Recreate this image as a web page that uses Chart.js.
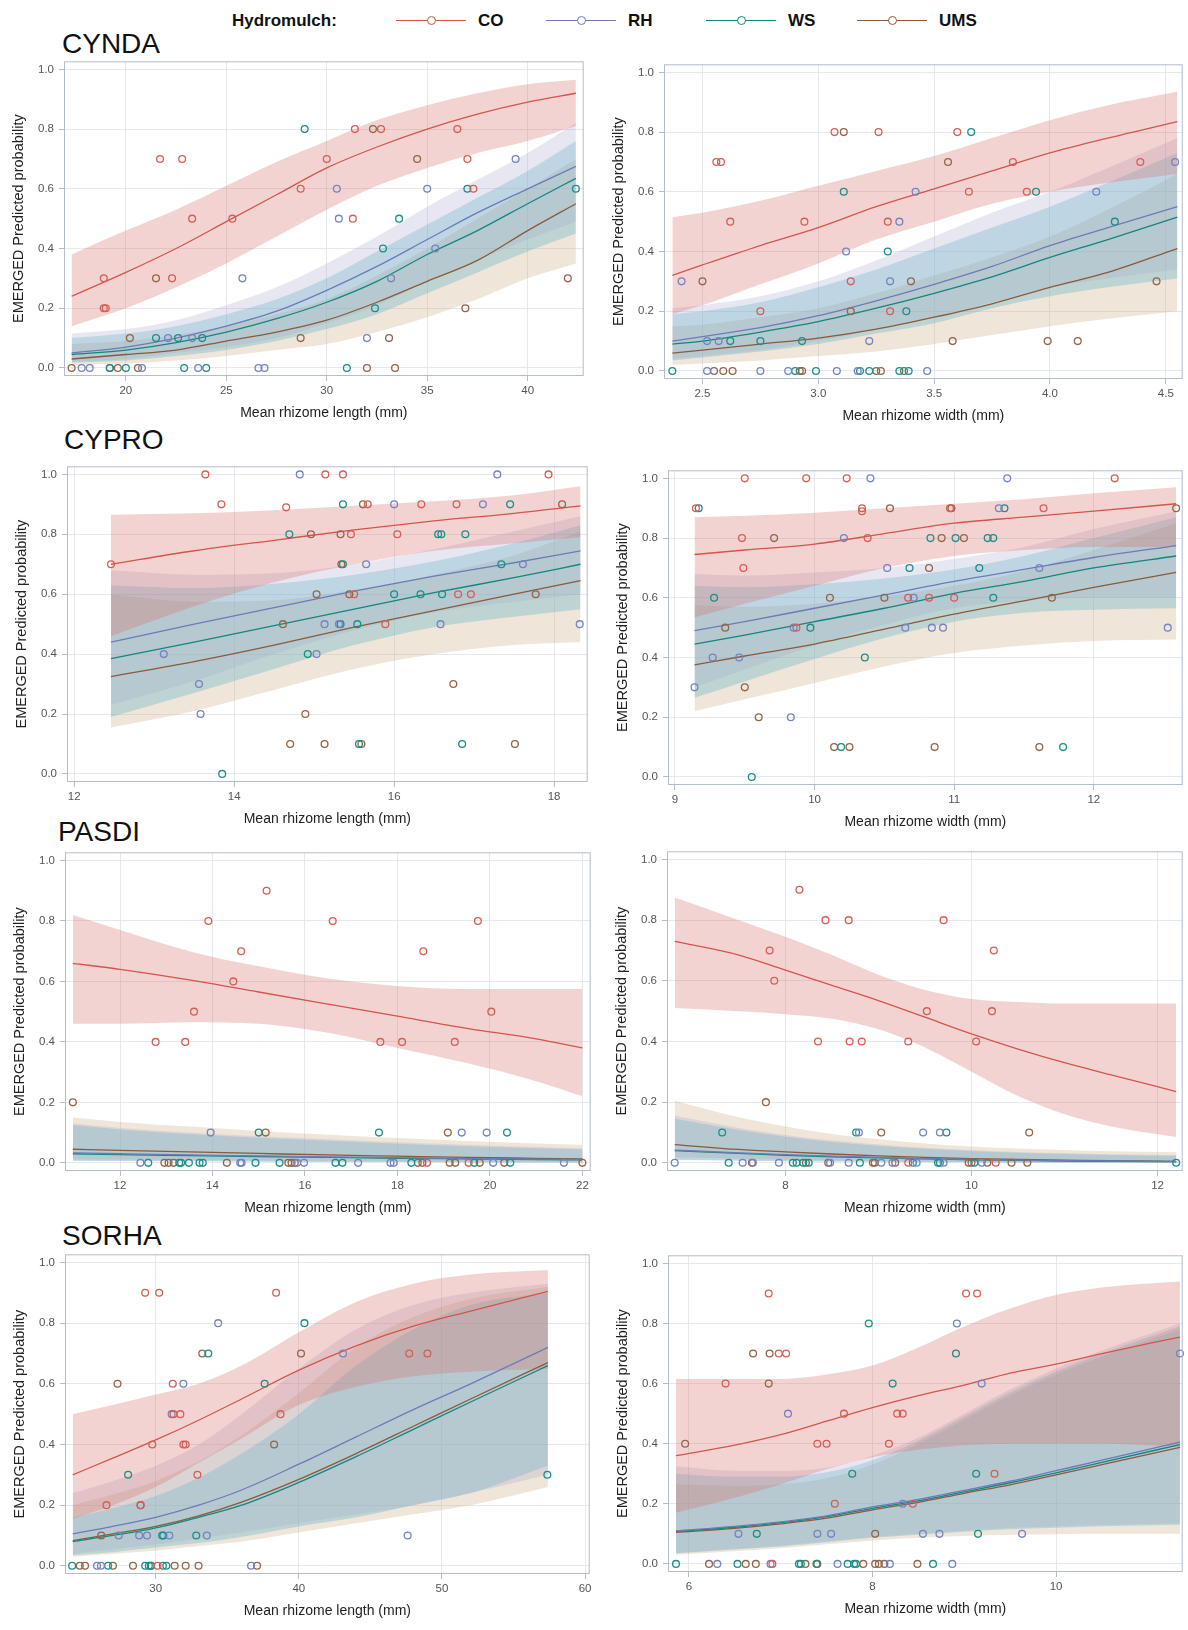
<!DOCTYPE html>
<html>
<head>
<meta charset="utf-8">
<script src="https://cdn.jsdelivr.net/npm/chart.js@4.4.1/dist/chart.umd.min.js"></script>
<style>
  html, body { margin: 0; padding: 0; background: #fff; overflow: hidden; }
  body { width: 1188px; height: 1630px; position: relative; font-family: "Liberation Sans", Arial, sans-serif; }
  canvas { position: absolute; }
  .species { position: absolute; font-size: 28px; line-height: 28px; color: #111; }
  .leg { position: absolute; top: 10px; height: 22px; line-height: 22px; font-size: 17px; font-weight: bold; color: #111; }
  .legline { position: absolute; top: 20px; width: 70px; height: 0; border-top: 1.5px solid; }
  .legdot { position: absolute; top: 16px; width: 7px; height: 7px; border: 1.3px solid; border-radius: 50%; background: #fff; }
</style>
</head>
<body>
<div class="species" style="left:62px;top:30px">CYNDA</div>
<div class="species" style="left:64px;top:426px">CYPRO</div>
<div class="species" style="left:58px;top:818px">PASDI</div>
<div class="species" style="left:62px;top:1222px">SORHA</div>
<div id="legend"></div>

<canvas id="c1"></canvas>
<canvas id="c2"></canvas>
<canvas id="c3"></canvas>
<canvas id="c4"></canvas>
<canvas id="c5"></canvas>
<canvas id="c6"></canvas>
<canvas id="c7"></canvas>
<canvas id="c8"></canvas>

<script>
const SERIES = ["CO", "RH", "WS", "UMS"];
const yTicks = [0, 0.2, 0.4, 0.6, 0.8, 1.0];

// ---- CYNDA, rhizome length
const cyndaLenTicks = [20, 25, 30, 35, 40];
const cyndaLenGrid = [17.3, 20, 22.5, 25, 27.5, 30, 32.5, 35, 37.5, 40, 42.4];
const cyndaLenFit = {
  CO:  [0.24, 0.32, 0.40, 0.49, 0.58, 0.67, 0.74, 0.80, 0.85, 0.89, 0.92],
  RH:  [0.05, 0.07, 0.10, 0.14, 0.19, 0.26, 0.34, 0.43, 0.52, 0.60, 0.675],
  WS:  [0.045, 0.06, 0.085, 0.12, 0.165, 0.22, 0.29, 0.38, 0.46, 0.55, 0.635],
  UMS: [0.03, 0.045, 0.06, 0.09, 0.12, 0.16, 0.22, 0.29, 0.36, 0.46, 0.55]
};
const cyndaLenLo = {
  CO:  [0.14, 0.20, 0.27, 0.35, 0.44, 0.53, 0.61, 0.67, 0.72, 0.76, 0.81],
  RH:  [0.02, 0.03, 0.05, 0.07, 0.10, 0.15, 0.21, 0.29, 0.36, 0.43, 0.49],
  WS:  [0.018, 0.025, 0.04, 0.06, 0.09, 0.13, 0.18, 0.25, 0.32, 0.39, 0.45],
  UMS: [0.01, 0.015, 0.025, 0.04, 0.06, 0.08, 0.12, 0.17, 0.23, 0.30, 0.35]
};
const cyndaLenHi = {
  CO:  [0.38, 0.46, 0.53, 0.61, 0.69, 0.76, 0.83, 0.88, 0.92, 0.95, 0.965],
  RH:  [0.115, 0.13, 0.16, 0.21, 0.27, 0.35, 0.44, 0.54, 0.63, 0.72, 0.82],
  WS:  [0.10, 0.115, 0.14, 0.18, 0.23, 0.30, 0.39, 0.48, 0.57, 0.66, 0.76],
  UMS: [0.08, 0.09, 0.11, 0.14, 0.18, 0.23, 0.31, 0.40, 0.50, 0.60, 0.70]
};
const cyndaLenPts = {
  CO:  [[18.9,0.3],[18.9,0.2],[19.0,0.2],[21.7,0.7],[22.8,0.7],[22.3,0.3],[23.3,0.5],[25.3,0.5],[28.7,0.6],[30.0,0.7],[31.4,0.8],[32.7,0.8],[31.3,0.5],[36.5,0.8],[37.0,0.7],[37.3,0.6]],
  RH:  [[17.8,0],[18.2,0],[20.8,0],[23.6,0],[26.6,0],[26.9,0],[22.1,0.1],[23.3,0.1],[32.0,0.1],[25.8,0.3],[33.2,0.3],[35.4,0.4],[30.6,0.5],[30.5,0.6],[35.0,0.6],[39.4,0.7]],
  WS:  [[19.2,0],[20.0,0],[22.9,0],[24.0,0],[31.0,0],[21.5,0.1],[22.6,0.1],[23.8,0.1],[32.4,0.2],[32.8,0.4],[33.6,0.5],[37.0,0.6],[42.4,0.6],[28.9,0.8]],
  UMS: [[17.3,0],[19.2,0],[19.6,0],[20.6,0],[32.0,0],[33.4,0],[20.2,0.1],[28.7,0.1],[33.1,0.1],[36.9,0.2],[21.5,0.3],[42.0,0.3],[34.5,0.7],[32.3,0.8]]
};

// ---- CYNDA, rhizome width
const cyndaWidTicks = [2.5, 3.0, 3.5, 4.0, 4.5];
const cyndaWidGrid = [2.37, 2.5, 2.75, 3.0, 3.25, 3.5, 3.75, 4.0, 4.25, 4.55];
const cyndaWidFit = {
  CO:  [0.32, 0.355, 0.42, 0.48, 0.55, 0.61, 0.67, 0.73, 0.78, 0.835],
  RH:  [0.10, 0.115, 0.145, 0.185, 0.235, 0.29, 0.35, 0.42, 0.48, 0.55],
  WS:  [0.09, 0.10, 0.13, 0.165, 0.21, 0.26, 0.315, 0.38, 0.44, 0.515],
  UMS: [0.06, 0.07, 0.09, 0.11, 0.14, 0.18, 0.225, 0.28, 0.33, 0.41]
};
const cyndaWidLo = {
  CO:  [0.19, 0.22, 0.29, 0.36, 0.44, 0.50, 0.56, 0.60, 0.63, 0.66],
  RH:  [0.04, 0.05, 0.07, 0.10, 0.14, 0.18, 0.23, 0.28, 0.31, 0.34],
  WS:  [0.035, 0.045, 0.065, 0.09, 0.125, 0.16, 0.21, 0.25, 0.28, 0.31],
  UMS: [0.02, 0.025, 0.035, 0.05, 0.065, 0.09, 0.12, 0.15, 0.175, 0.20]
};
const cyndaWidHi = {
  CO:  [0.515, 0.53, 0.57, 0.62, 0.67, 0.72, 0.78, 0.84, 0.89, 0.935],
  RH:  [0.21, 0.22, 0.25, 0.30, 0.37, 0.45, 0.53, 0.60, 0.68, 0.78],
  WS:  [0.19, 0.20, 0.23, 0.28, 0.34, 0.41, 0.48, 0.55, 0.63, 0.73],
  UMS: [0.15, 0.155, 0.18, 0.21, 0.26, 0.32, 0.38, 0.45, 0.54, 0.66]
};
const cyndaWidPts = {
  CO:  [[2.56,0.7],[2.58,0.7],[3.84,0.7],[4.39,0.7],[2.62,0.5],[2.94,0.5],[3.30,0.5],[3.07,0.8],[3.26,0.8],[3.60,0.8],[3.65,0.6],[3.90,0.6],[2.75,0.2],[3.31,0.2],[3.14,0.3]],
  RH:  [[2.41,0.3],[3.31,0.3],[2.52,0.1],[2.57,0.1],[3.22,0.1],[2.52,0],[2.75,0],[2.87,0],[3.08,0],[3.17,0],[3.47,0],[3.12,0.4],[3.35,0.5],[3.42,0.6],[4.20,0.6],[4.54,0.7]],
  WS:  [[2.37,0],[2.90,0],[2.99,0],[3.18,0],[3.22,0],[3.35,0],[3.39,0],[2.62,0.1],[2.75,0.1],[2.93,0.1],[3.38,0.2],[3.30,0.4],[3.11,0.6],[3.94,0.6],[4.28,0.5],[3.66,0.8]],
  UMS: [[2.50,0.3],[3.40,0.3],[4.46,0.3],[3.14,0.2],[3.58,0.1],[3.99,0.1],[4.12,0.1],[2.55,0],[2.59,0],[2.63,0],[2.92,0],[2.93,0],[3.25,0],[3.27,0],[3.37,0],[3.56,0.7],[3.11,0.8]]
};

// ---- CYPRO, rhizome length
const cyproLenTicks = [12, 14, 16, 18];
const cyproLenGrid = [12.46, 13.5, 14.5, 15.5, 16.5, 17.5, 18.33];
const cyproLenFit = {
  CO:  [0.70, 0.745, 0.78, 0.815, 0.845, 0.87, 0.895],
  RH:  [0.44, 0.50, 0.555, 0.61, 0.66, 0.705, 0.745],
  WS:  [0.385, 0.44, 0.495, 0.55, 0.605, 0.655, 0.70],
  UMS: [0.325, 0.375, 0.43, 0.49, 0.545, 0.60, 0.645]
};
const cyproLenLo = {
  CO:  [0.46, 0.56, 0.64, 0.70, 0.745, 0.77, 0.79],
  RH:  [0.23, 0.31, 0.40, 0.48, 0.54, 0.575, 0.60],
  WS:  [0.19, 0.27, 0.35, 0.43, 0.49, 0.525, 0.55],
  UMS: [0.155, 0.21, 0.28, 0.35, 0.40, 0.43, 0.44]
};
const cyproLenHi = {
  CO:  [0.865, 0.87, 0.88, 0.895, 0.91, 0.93, 0.96],
  RH:  [0.68, 0.665, 0.67, 0.70, 0.75, 0.81, 0.86],
  WS:  [0.63, 0.62, 0.635, 0.665, 0.71, 0.77, 0.83],
  UMS: [0.60, 0.575, 0.58, 0.615, 0.665, 0.73, 0.81]
};
const cyproLenPts = {
  CO:  [[13.64,1],[15.14,1],[15.36,1],[17.93,1],[13.84,0.9],[15.67,0.9],[16.34,0.9],[16.78,0.9],[14.65,0.89],[15.46,0.8],[16.04,0.8],[12.46,0.7],[15.50,0.6],[16.80,0.6],[16.96,0.6],[15.89,0.5]],
  RH:  [[14.82,1],[17.29,1],[16.0,0.9],[17.11,0.9],[15.65,0.7],[17.61,0.7],[15.13,0.5],[15.31,0.5],[16.58,0.5],[18.32,0.5],[13.12,0.4],[15.03,0.4],[13.56,0.3],[13.58,0.2]],
  WS:  [[15.36,0.9],[17.45,0.9],[14.69,0.8],[16.55,0.8],[16.59,0.8],[16.89,0.8],[15.36,0.7],[17.34,0.7],[16.0,0.6],[16.33,0.6],[16.60,0.6],[15.33,0.5],[15.54,0.5],[14.92,0.4],[15.56,0.1],[16.85,0.1],[13.85,0]],
  UMS: [[15.61,0.9],[18.10,0.9],[14.96,0.8],[15.33,0.8],[15.34,0.7],[15.03,0.6],[15.44,0.6],[17.77,0.6],[14.61,0.5],[16.74,0.3],[14.89,0.2],[14.70,0.1],[15.13,0.1],[15.59,0.1],[17.51,0.1]]
};

// ---- CYPRO, rhizome width
const cyproWidTicks = [9, 10, 11, 12];
const cyproWidGrid = [9.14, 9.5, 10, 10.5, 11, 11.5, 12, 12.59];
const cyproWidFit = {
  CO:  [0.745, 0.76, 0.78, 0.815, 0.85, 0.87, 0.89, 0.915],
  RH:  [0.49, 0.52, 0.565, 0.61, 0.655, 0.695, 0.735, 0.775],
  WS:  [0.445, 0.475, 0.52, 0.565, 0.615, 0.655, 0.70, 0.74],
  UMS: [0.375, 0.405, 0.445, 0.495, 0.545, 0.59, 0.635, 0.685]
};
const cyproWidLo = {
  CO:  [0.535, 0.58, 0.64, 0.70, 0.74, 0.76, 0.77, 0.77],
  RH:  [0.30, 0.36, 0.44, 0.51, 0.565, 0.59, 0.60, 0.60],
  WS:  [0.265, 0.32, 0.395, 0.465, 0.52, 0.55, 0.56, 0.565],
  UMS: [0.22, 0.26, 0.315, 0.37, 0.415, 0.44, 0.455, 0.46]
};
const cyproWidHi = {
  CO:  [0.87, 0.875, 0.885, 0.90, 0.915, 0.93, 0.95, 0.97],
  RH:  [0.68, 0.675, 0.685, 0.70, 0.73, 0.77, 0.83, 0.89],
  WS:  [0.64, 0.635, 0.645, 0.665, 0.695, 0.74, 0.80, 0.87],
  UMS: [0.575, 0.57, 0.58, 0.605, 0.64, 0.69, 0.76, 0.85]
};
const cyproWidPts = {
  CO:  [[9.50,1],[9.94,1],[10.23,1],[12.15,1],[9.15,0.9],[10.34,0.9],[10.97,0.9],[11.64,0.9],[10.34,0.89],[9.48,0.8],[10.38,0.8],[9.49,0.7],[10.67,0.6],[10.82,0.6],[11.0,0.6],[9.87,0.5]],
  RH:  [[10.40,1],[11.38,1],[11.32,0.9],[10.21,0.8],[10.52,0.7],[11.61,0.7],[10.71,0.6],[9.85,0.5],[10.65,0.5],[10.84,0.5],[10.92,0.5],[12.53,0.5],[9.27,0.4],[9.46,0.4],[9.14,0.3],[9.83,0.2]],
  WS:  [[9.17,0.9],[11.36,0.9],[10.83,0.8],[11.01,0.8],[11.24,0.8],[11.28,0.8],[10.68,0.7],[11.18,0.7],[9.28,0.6],[11.28,0.6],[9.97,0.5],[10.36,0.4],[10.19,0.1],[11.78,0.1],[9.55,0]],
  UMS: [[10.54,0.9],[10.98,0.9],[12.59,0.9],[9.71,0.8],[10.91,0.8],[11.07,0.8],[10.82,0.7],[10.11,0.6],[10.50,0.6],[11.70,0.6],[9.36,0.5],[9.50,0.3],[9.60,0.2],[10.14,0.1],[10.25,0.1],[10.86,0.1],[11.61,0.1]]
};

// ---- PASDI, rhizome length
const pasdiLenTicks = [12, 14, 16, 18, 20, 22];
const pasdiLenGrid = [10.98, 12, 13.5, 15, 16.5, 18, 19.5, 21, 22.0];
const pasdiLenFit = {
  CO:  [0.66, 0.64, 0.605, 0.565, 0.525, 0.485, 0.445, 0.41, 0.38],
  RH:  [0.033, 0.030, 0.026, 0.023, 0.020, 0.017, 0.014, 0.012, 0.011],
  WS:  [0.030, 0.027, 0.024, 0.021, 0.018, 0.015, 0.013, 0.011, 0.010],
  UMS: [0.045, 0.041, 0.036, 0.031, 0.026, 0.022, 0.018, 0.015, 0.013]
};
const pasdiLenLo = {
  CO:  [0.46, 0.46, 0.465, 0.46, 0.43, 0.38, 0.33, 0.27, 0.22],
  RH:  [0.008, 0.007, 0.006, 0.005, 0.004, 0.003, 0.002, 0.002, 0.001],
  WS:  [0.007, 0.006, 0.005, 0.004, 0.003, 0.003, 0.002, 0.001, 0.001],
  UMS: [0.012, 0.011, 0.009, 0.008, 0.006, 0.005, 0.004, 0.003, 0.002]
};
const pasdiLenHi = {
  CO:  [0.82, 0.77, 0.70, 0.65, 0.61, 0.585, 0.575, 0.575, 0.575],
  RH:  [0.13, 0.115, 0.10, 0.088, 0.078, 0.068, 0.060, 0.052, 0.048],
  WS:  [0.125, 0.11, 0.095, 0.083, 0.073, 0.063, 0.055, 0.048, 0.044],
  UMS: [0.15, 0.135, 0.12, 0.105, 0.093, 0.082, 0.072, 0.064, 0.06]
};
const pasdiLenPts = {
  CO:  [[15.17,0.9],[13.91,0.8],[16.60,0.8],[19.74,0.8],[14.62,0.7],[18.56,0.7],[14.45,0.6],[13.60,0.5],[20.03,0.5],[12.77,0.4],[13.41,0.4],[17.63,0.4],[18.10,0.4],[19.24,0.4],[18.64,0],[19.54,0]],
  RH:  [[13.96,0.1],[19.39,0.1],[19.93,0.1],[12.44,0],[14.60,0],[14.63,0],[15.83,0],[15.98,0],[17.15,0],[17.85,0],[17.92,0],[20.07,0],[21.60,0]],
  WS:  [[15.0,0.1],[17.60,0.1],[20.37,0.1],[12.61,0],[13.28,0],[13.32,0],[13.49,0],[13.72,0],[13.79,0],[14.93,0],[15.45,0],[16.66,0],[16.81,0],[18.30,0],[19.66,0],[20.44,0]],
  UMS: [[10.98,0.2],[15.15,0.1],[19.09,0.1],[12.96,0],[13.05,0],[13.16,0],[14.31,0],[15.64,0],[15.71,0],[15.78,0],[18.44,0],[18.54,0],[19.13,0],[19.25,0],[19.78,0],[20.31,0],[22.0,0]]
};

// ---- PASDI, rhizome width
const pasdiWidTicks = [8, 10, 12];
const pasdiWidGrid = [6.81, 7.5, 8, 8.5, 9, 9.5, 10, 10.5, 11, 11.5, 12.2];
const pasdiWidFit = {
  CO:  [0.73, 0.685, 0.635, 0.585, 0.535, 0.48, 0.425, 0.375, 0.33, 0.29, 0.235],
  RH:  [0.042, 0.033, 0.027, 0.022, 0.018, 0.014, 0.011, 0.009, 0.007, 0.006, 0.004],
  WS:  [0.040, 0.031, 0.025, 0.020, 0.016, 0.013, 0.010, 0.008, 0.006, 0.005, 0.004],
  UMS: [0.06, 0.044, 0.036, 0.029, 0.023, 0.018, 0.014, 0.011, 0.009, 0.007, 0.005]
};
const pasdiWidLo = {
  CO:  [0.51, 0.50, 0.49, 0.475, 0.44, 0.38, 0.30, 0.22, 0.16, 0.12, 0.085],
  RH:  [0.010, 0.008, 0.006, 0.005, 0.004, 0.003, 0.002, 0.001, 0.001, 0.001, 0.0],
  WS:  [0.009, 0.007, 0.005, 0.004, 0.003, 0.002, 0.002, 0.001, 0.001, 0.0, 0.0],
  UMS: [0.018, 0.013, 0.010, 0.008, 0.006, 0.004, 0.003, 0.002, 0.002, 0.001, 0.001]
};
const pasdiWidHi = {
  CO:  [0.875, 0.80, 0.745, 0.685, 0.62, 0.57, 0.54, 0.53, 0.525, 0.525, 0.525],
  RH:  [0.155, 0.115, 0.092, 0.074, 0.060, 0.050, 0.042, 0.036, 0.032, 0.028, 0.025],
  WS:  [0.145, 0.108, 0.086, 0.069, 0.056, 0.046, 0.039, 0.033, 0.029, 0.026, 0.023],
  UMS: [0.205, 0.15, 0.12, 0.095, 0.078, 0.064, 0.054, 0.047, 0.042, 0.038, 0.035]
};
const pasdiWidPts = {
  CO:  [[8.15,0.9],[8.43,0.8],[8.68,0.8],[9.70,0.8],[7.83,0.7],[10.24,0.7],[7.88,0.6],[9.52,0.5],[10.22,0.5],[8.35,0.4],[8.69,0.4],[8.82,0.4],[9.32,0.4],[10.05,0.4],[9.32,0],[10.26,0]],
  RH:  [[8.79,0.1],[9.48,0.1],[9.66,0.1],[6.81,0],[7.54,0],[7.65,0],[7.93,0],[8.48,0],[8.68,0],[9.03,0],[9.15,0],[9.41,0],[9.70,0],[10.11,0]],
  WS:  [[7.32,0.1],[8.76,0.1],[9.73,0.1],[7.39,0],[8.08,0],[8.12,0],[8.19,0],[8.25,0],[8.80,0],[9.37,0],[9.64,0],[9.66,0],[10.03,0],[12.2,0]],
  UMS: [[7.79,0.2],[9.03,0.1],[10.62,0.1],[7.64,0],[8.22,0],[8.46,0],[8.94,0],[8.96,0],[9.18,0],[9.97,0],[10.0,0],[10.17,0],[10.43,0],[10.60,0]]
};

// ---- SORHA, rhizome length
const sorhaLenTicks = [30, 40, 50, 60];
const sorhaLenGrid = [24.2, 27, 30, 33, 36, 40, 44, 48, 52, 57.4];
const sorhaLenFit = {
  CO:  [0.30, 0.355, 0.415, 0.48, 0.55, 0.645, 0.725, 0.79, 0.84, 0.905],
  RH:  [0.105, 0.13, 0.16, 0.20, 0.25, 0.335, 0.425, 0.515, 0.60, 0.72],
  WS:  [0.08, 0.10, 0.125, 0.16, 0.20, 0.275, 0.36, 0.45, 0.54, 0.66],
  UMS: [0.083, 0.105, 0.13, 0.165, 0.21, 0.285, 0.37, 0.46, 0.55, 0.67]
};
const sorhaLenLo = {
  CO:  [0.155, 0.20, 0.26, 0.34, 0.42, 0.53, 0.59, 0.625, 0.64, 0.65],
  RH:  [0.04, 0.055, 0.07, 0.09, 0.11, 0.14, 0.17, 0.20, 0.24, 0.30],
  WS:  [0.035, 0.045, 0.06, 0.075, 0.095, 0.13, 0.16, 0.20, 0.24, 0.33],
  UMS: [0.03, 0.04, 0.05, 0.065, 0.08, 0.11, 0.14, 0.17, 0.20, 0.26]
};
const sorhaLenHi = {
  CO:  [0.50, 0.53, 0.565, 0.60, 0.66, 0.77, 0.87, 0.93, 0.96, 0.975],
  RH:  [0.24, 0.28, 0.33, 0.40, 0.50, 0.65, 0.78, 0.86, 0.90, 0.93],
  WS:  [0.16, 0.19, 0.23, 0.29, 0.37, 0.50, 0.66, 0.78, 0.86, 0.90],
  UMS: [0.20, 0.235, 0.28, 0.345, 0.43, 0.57, 0.72, 0.82, 0.88, 0.92]
};
const sorhaLenPts = {
  CO:  [[29.26,0.9],[30.24,0.9],[38.41,0.9],[47.71,0.7],[48.98,0.7],[31.19,0.6],[31.72,0.5],[31.24,0.5],[38.72,0.5],[29.76,0.4],[31.93,0.4],[32.09,0.4],[32.91,0.3],[26.56,0.2],[28.94,0.2],[30.13,0]],
  RH:  [[34.36,0.8],[43.08,0.7],[31.93,0.6],[31.11,0.5],[27.41,0.1],[28.84,0.1],[29.39,0.1],[30.95,0.1],[33.57,0.1],[47.60,0.1],[25.90,0],[26.17,0],[36.66,0]],
  WS:  [[40.39,0.8],[33.67,0.7],[37.61,0.6],[28.07,0.3],[57.36,0.3],[30.45,0.1],[30.53,0.1],[32.83,0.1],[24.16,0],[26.67,0],[29.26,0],[29.52,0],[29.68,0],[30.50,0],[30.74,0]],
  UMS: [[33.25,0.7],[40.15,0.7],[27.33,0.6],[38.27,0.4],[28.94,0.2],[26.19,0.1],[24.69,0],[25.06,0],[27.01,0],[28.41,0],[29.66,0],[31.32,0],[32.09,0],[32.99,0],[37.08,0]]
};

// ---- SORHA, rhizome width
const sorhaWidTicks = [6, 8, 10];
const sorhaWidGrid = [5.86, 6.5, 7, 7.5, 8, 8.5, 9, 9.5, 10, 10.5, 11.35];
const sorhaWidFit = {
  CO:  [0.36, 0.395, 0.43, 0.475, 0.52, 0.56, 0.595, 0.635, 0.665, 0.70, 0.755],
  RH:  [0.11, 0.125, 0.14, 0.16, 0.19, 0.215, 0.245, 0.275, 0.31, 0.345, 0.405],
  WS:  [0.108, 0.122, 0.137, 0.157, 0.185, 0.21, 0.24, 0.27, 0.303, 0.338, 0.397],
  UMS: [0.105, 0.118, 0.133, 0.152, 0.18, 0.205, 0.235, 0.263, 0.296, 0.33, 0.388]
};
const sorhaWidLo = {
  CO:  [0.17, 0.22, 0.265, 0.315, 0.355, 0.38, 0.395, 0.40, 0.40, 0.40, 0.39],
  RH:  [0.035, 0.05, 0.06, 0.075, 0.09, 0.10, 0.11, 0.12, 0.125, 0.13, 0.135],
  WS:  [0.035, 0.048, 0.058, 0.072, 0.087, 0.097, 0.107, 0.115, 0.12, 0.125, 0.13],
  UMS: [0.03, 0.042, 0.052, 0.065, 0.078, 0.087, 0.093, 0.097, 0.099, 0.10, 0.10]
};
const sorhaWidHi = {
  CO:  [0.615, 0.615, 0.615, 0.63, 0.66, 0.72, 0.79, 0.85, 0.895, 0.92, 0.94],
  RH:  [0.325, 0.31, 0.31, 0.32, 0.36, 0.42, 0.50, 0.58, 0.65, 0.71, 0.80],
  WS:  [0.30, 0.29, 0.29, 0.305, 0.345, 0.41, 0.49, 0.57, 0.64, 0.70, 0.79],
  UMS: [0.265, 0.26, 0.265, 0.285, 0.33, 0.40, 0.48, 0.56, 0.63, 0.69, 0.78]
};
const sorhaWidPts = {
  CO:  [[6.87,0.9],[9.02,0.9],[9.14,0.9],[6.98,0.7],[7.06,0.7],[6.40,0.6],[7.69,0.5],[8.27,0.5],[8.33,0.5],[7.40,0.4],[7.50,0.4],[8.18,0.4],[9.33,0.3],[7.59,0.2],[8.44,0.2],[6.91,0]],
  RH:  [[8.92,0.8],[9.19,0.6],[11.35,0.7],[7.08,0.5],[8.33,0.2],[6.54,0.1],[7.40,0.1],[7.55,0.1],[8.55,0.1],[8.73,0.1],[9.63,0.1],[6.31,0],[6.89,0],[7.62,0],[8.19,0],[8.87,0]],
  WS:  [[7.96,0.8],[8.91,0.7],[8.22,0.6],[7.78,0.3],[9.13,0.3],[6.74,0.1],[9.15,0.1],[5.86,0],[6.53,0],[7.20,0],[7.22,0],[7.39,0],[7.73,0],[7.80,0],[7.82,0],[8.66,0]],
  UMS: [[6.70,0.7],[6.88,0.7],[6.87,0.6],[5.96,0.4],[8.03,0.1],[6.22,0],[6.62,0],[6.73,0],[7.27,0],[7.40,0],[7.90,0],[8.03,0],[8.07,0],[8.13,0],[8.49,0]]
};

// colours
const LINE = { CO: "#d3554c", RH: "#6b7cb9", WS: "#13877f", UMS: "#8a5b3b" };
const DOT  = { CO: "#d65e55", RH: "#7484c0", WS: "#1a9088", UMS: "#946548" };
const BAND = {
  CO: "rgba(214,110,104,0.30)",
  RH: "rgba(165,168,200,0.28)",
  WS: "rgba(88,178,200,0.33)",
  UMS: "rgba(206,174,138,0.32)"
};

const LEN_TITLE = "Mean rhizome length (mm)";
const WID_TITLE = "Mean rhizome width (mm)";

// panel frames (chart area) in page pixels
const panels = [
  { id: "c1", grid: cyndaLenGrid, fit: cyndaLenFit, lo: cyndaLenLo, hi: cyndaLenHi, pts: cyndaLenPts, ticks: cyndaLenTicks, dec: 0, title: LEN_TITLE, L: 64,  R: 585,  y1: 68,   y0: 368,  xmin: 16.92, xmax: 42.79 },
  { id: "c2", grid: cyndaWidGrid, fit: cyndaWidFit, lo: cyndaWidLo, hi: cyndaWidHi, pts: cyndaWidPts, ticks: cyndaWidTicks, dec: 1, title: WID_TITLE, L: 664, R: 1186, y1: 71,   y0: 371,  xmin: 2.334, xmax: 4.573 },
  { id: "c3", grid: cyproLenGrid, fit: cyproLenFit, lo: cyproLenLo, hi: cyproLenHi, pts: cyproLenPts, ticks: cyproLenTicks, dec: 0, title: LEN_TITLE, L: 67,  R: 589,  y1: 473,  y0: 774,  xmin: 11.91, xmax: 18.42 },
  { id: "c4", grid: cyproWidGrid, fit: cyproWidFit, lo: cyproWidLo, hi: cyproWidHi, pts: cyproWidPts, ticks: cyproWidTicks, dec: 0, title: WID_TITLE, L: 668, R: 1187, y1: 477,  y0: 777,  xmin: 8.95,  xmax: 12.637 },
  { id: "c5", grid: pasdiLenGrid, fit: pasdiLenFit, lo: pasdiLenLo, hi: pasdiLenHi, pts: pasdiLenPts, ticks: pasdiLenTicks, dec: 0, title: LEN_TITLE, L: 65,  R: 592,  y1: 859,  y0: 1163, xmin: 10.81, xmax: 22.18 },
  { id: "c6", grid: pasdiWidGrid, fit: pasdiWidFit, lo: pasdiWidLo, hi: pasdiWidHi, pts: pasdiWidPts, ticks: pasdiWidTicks, dec: 0, title: WID_TITLE, L: 667, R: 1187, y1: 858,  y0: 1163, xmin: 6.727, xmax: 12.27 },
  { id: "c7", grid: sorhaLenGrid, fit: sorhaLenFit, lo: sorhaLenLo, hi: sorhaLenHi, pts: sorhaLenPts, ticks: sorhaLenTicks, dec: 0, title: LEN_TITLE, L: 65,  R: 591,  y1: 1261, y0: 1566, xmin: 23.66, xmax: 60.32 },
  { id: "c8", grid: sorhaWidGrid, fit: sorhaWidFit, lo: sorhaWidLo, hi: sorhaWidHi, pts: sorhaWidPts, ticks: sorhaWidTicks, dec: 0, title: WID_TITLE, L: 668, R: 1187, y1: 1262, y0: 1564, xmin: 5.773, xmax: 11.38 }
];

const Y_MIN = -0.027, Y_MAX = 1.027;
const Y_AXIS_W = 60, X_AXIS_H = 50;

function hasFont(name) {
  const c = document.createElement("canvas").getContext("2d");
  const s = "Mean rhizome length (mm) EMERGED";
  c.font = "40px monospace";
  const w1 = c.measureText(s).width;
  c.font = `40px "${name}", monospace`;
  return Math.abs(c.measureText(s).width - w1) > 1;
}

const narrow = hasFont("Liberation Sans Narrow");
const SANS = "'Liberation Sans', Arial, sans-serif";
const NARROW = "'Liberation Sans Narrow', 'Liberation Sans', sans-serif";
const tickFont = { family: SANS, size: 11.5 };
const xTitleFont = narrow ? { family: NARROW, size: 17 } : { family: SANS, size: 14 };
const yTitleFont = narrow ? { family: NARROW, size: 17 } : { family: SANS, size: 14.5 };

// legend
const legend = document.getElementById("legend");
legend.innerHTML = '<div class="leg" style="left:232px">Hydromulch:</div>';
const legX = [396, 546, 706, 857];
SERIES.forEach((s, i) => {
  const x = legX[i];
  legend.innerHTML +=
    `<div class="legline" style="left:${x}px;border-color:${LINE[s]}"></div>` +
    `<div class="legdot" style="left:${x + 31}px;border-color:${LINE[s]}"></div>` +
    `<div class="leg" style="left:${x + 82}px">${s}</div>`;
});

const framePlugin = {
  id: "frame",
  afterDraw(chart) {
    const { ctx, chartArea: a } = chart;
    ctx.save();
    ctx.strokeStyle = "#b4bdcc";
    ctx.lineWidth = 1;
    ctx.strokeRect(a.left + 0.5, a.top + 0.5, a.right - a.left - 1, a.bottom - a.top - 1);
    ctx.restore();
  }
};

function xy(xs, ys) {
  return xs.map((x, i) => ({ x, y: ys[i] }));
}

function buildDatasets(p) {
  const out = [];
  SERIES.forEach(s => {
    out.push({ data: xy(p.grid, p.lo[s]), borderWidth: 0, borderColor: "rgba(0,0,0,0)", pointRadius: 0, fill: false, order: 3, cubicInterpolationMode: "monotone" });
    out.push({ data: xy(p.grid, p.hi[s]), borderWidth: 0, borderColor: "rgba(0,0,0,0)", pointRadius: 0, fill: "-1", backgroundColor: BAND[s], order: 3, cubicInterpolationMode: "monotone" });
  });
  SERIES.forEach(s => {
    out.push({ data: xy(p.grid, p.fit[s]), borderColor: LINE[s], borderWidth: 1.3, pointRadius: 0, fill: false, order: 2, cubicInterpolationMode: "monotone" });
  });
  SERIES.forEach(s => {
    out.push({
      data: p.pts[s].map(([x, y]) => ({ x, y })),
      showLine: false, pointRadius: 3.4, pointBorderWidth: 1.3,
      pointBorderColor: DOT[s], pointBackgroundColor: "rgba(255,255,255,0)",
      order: 1, clip: false
    });
  });
  return out;
}

// stop chart.js from insetting the plot area for tick labels
function noPad(s) {
  s.paddingTop = 0; s.paddingBottom = 0; s.paddingLeft = 0; s.paddingRight = 0;
}

panels.forEach(p => {
  const span = p.y0 - p.y1;
  const frameTop = p.y1 - 0.027 * span;
  const frameBottom = p.y0 + 0.027 * span;
  const left = p.L - Y_AXIS_W;
  const top = Math.round(frameTop) - 4;
  const padR = Math.min(4, 1188 - p.R);
  const canvas = document.getElementById(p.id);
  canvas.width = p.R + padR - left;
  canvas.height = Math.round(frameBottom) + X_AXIS_H - top;
  canvas.style.left = left + "px";
  canvas.style.top = top + "px";

  new Chart(canvas, {
    type: "line",
    data: { datasets: buildDatasets(p) },
    options: {
      responsive: false,
      animation: false,
      devicePixelRatio: 1,
      events: [],
      layout: { padding: { top: 4, right: padR, left: 0, bottom: 0 } },
      plugins: { legend: { display: false }, tooltip: { enabled: false }, filler: { propagate: false } },
      scales: {
        x: {
          type: "linear", min: p.xmin, max: p.xmax,
          afterFit: s => { s.height = X_AXIS_H; noPad(s); },
          afterBuildTicks: s => { s.ticks = p.ticks.map(v => ({ value: v })); },
          ticks: { autoSkip: false, maxRotation: 0, padding: 3, color: "#555", font: tickFont, callback: v => Number(v).toFixed(p.dec) },
          grid: { color: "#e6e8ee", tickColor: "#b4bdcc", tickLength: 5 },
          border: { display: false },
          title: { display: true, text: p.title, color: "#222", font: xTitleFont, padding: { top: 0, bottom: 13 - xTitleFont.size * 0.6 } }
        },
        y: {
          type: "linear", min: Y_MIN, max: Y_MAX,
          afterFit: s => { s.width = Y_AXIS_W; noPad(s); },
          afterBuildTicks: s => { s.ticks = yTicks.map(v => ({ value: v })); },
          ticks: { autoSkip: false, padding: 5, color: "#555", font: tickFont, callback: v => Number(v).toFixed(1) },
          grid: { color: "#e6e8ee", tickColor: "#b4bdcc", tickLength: 5 },
          border: { display: false },
          title: { display: true, text: "EMERGED Predicted probability", color: "#222", font: yTitleFont, padding: { top: 15 - yTitleFont.size * 0.6, bottom: 0 } }
        }
      }
    },
    plugins: [framePlugin]
  });
});
</script>
</body>
</html>
